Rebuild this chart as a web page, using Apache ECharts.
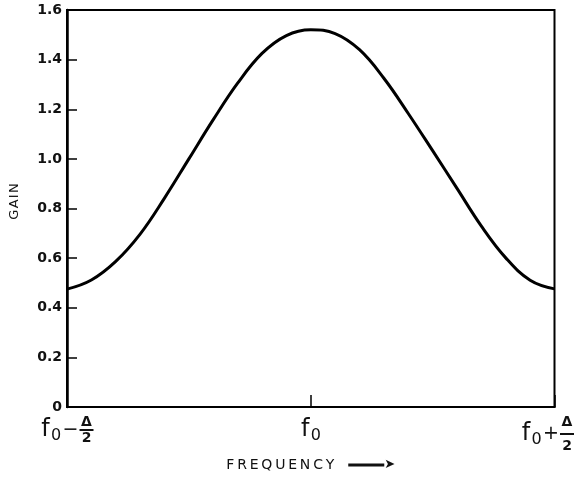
<!DOCTYPE html>
<html>
<head>
<meta charset="utf-8">
<script src="https://cdn.jsdelivr.net/npm/echarts@6/dist/echarts.min.js"></script>
<style>
  html, body { margin: 0; padding: 0; background: #fff; }
  #chart { width: 584px; height: 477px; }
</style>
</head>
<body>
<div id="chart"></div>
<script>
// Frequency offset from f0, in units of Δ
var freq = [-0.5, -0.45, -0.4, -0.35, -0.3, -0.25, -0.2, -0.15, -0.1, -0.05, 0, 0.05, 0.1, 0.15, 0.2, 0.25, 0.3, 0.35, 0.4, 0.45, 0.5];
// Gain
var gain = [0.475, 0.512, 0.587, 0.697, 0.842, 1.000, 1.158, 1.305, 1.425, 1.497, 1.520, 1.505, 1.440, 1.325, 1.183, 1.033, 0.881, 0.729, 0.601, 0.511, 0.476];
// Tick labels
var yTicks = [0, 0.2, 0.4, 0.6, 0.8, 1.0, 1.2, 1.4, 1.6];
var xTickValues = [-0.5, 0, 0.5];
var xTickLabels = ['f0 − Δ/2', 'f0', 'f0 + Δ/2'];

var FONT = 'DejaVu Sans';
var chart = echarts.init(document.getElementById('chart'), null, { renderer: 'canvas' });

function xLabel(v) {
  var i = xTickValues.indexOf(Math.round(v * 1000) / 1000);
  if (i < 0) return '';
  var t = xTickLabels[i];
  if (t === 'f0') {
    return '{e| }\n{f|f}{s|0}\n{e| }';
  }
  var op = t.indexOf('+') >= 0 ? '+' : '−';
  var tail = op === '+' ? '{tail|}' : '';
  return '{gap|}{num|Δ}' + tail + '\n' +
         '{f|f}{s|0}{op|' + op + '}{bar|}' + tail + '\n' +
         '{gap|}{den|2}' + tail;
}

var data = freq.map(function (f, i) { return [f, gain[i]]; });

chart.setOption({
  animation: false,
  backgroundColor: '#fff',
  grid: {
    left: 67, right: 23, top: 10, bottom: 66,
    show: true, borderColor: '#000', borderWidth: 2, backgroundColor: 'transparent'
  },
  xAxis: {
    type: 'value',
    min: -0.5, max: 0.5, interval: 0.5,
    name: '{t|F\u2009R\u2009E\u2009Q\u2009U\u2009E\u2009N\u2009C\u2009Y}{sp|}{shaft|}{head|➤}',
    nameLocation: 'middle',
    nameGap: 51,
    nameTextStyle: {
      rich: {
        t: { fontFamily: FONT, fontSize: 14, color: '#111' },
        sp: { width: 14 },
        shaft: { width: 36, height: 3, backgroundColor: '#111' },
        head: { fontFamily: FONT, fontSize: 13, color: '#111' }
      }
    },
    axisLine: { show: true, onZero: false, lineStyle: { color: '#000', width: 2 } },
    axisTick: { show: true, inside: true, length: 12, lineStyle: { color: '#000', width: 1.5 } },
    splitLine: { show: false },
    axisLabel: {
      show: true, margin: 9, showMinLabel: true, showMaxLabel: true,
      formatter: xLabel,
      rich: {
        e: { fontSize: 11, lineHeight: 12, width: 20, align: 'center' },
        f: { fontFamily: FONT, fontSize: 24, color: '#111', width: 10, align: 'center', lineHeight: 4 },
        s: { fontFamily: FONT, fontSize: 16, color: '#111', width: 11, align: 'center', lineHeight: 4, padding: [12, 0, 0, 0] },
        op: { fontFamily: FONT, fontSize: 19, color: '#111', width: 18, align: 'center', lineHeight: 4 },
        bar: { width: 14, height: 2, backgroundColor: '#111', align: 'center' },
        gap: { width: 39, align: 'center', lineHeight: 12 },
        num: { fontFamily: FONT, fontSize: 14, fontWeight: 'bold', color: '#111', width: 14, align: 'center', lineHeight: 12 },
        den: { fontFamily: FONT, fontSize: 14, fontWeight: 'bold', color: '#111', width: 14, align: 'center', lineHeight: 12 },
        tail: { width: 14, align: 'center' }
      }
    }
  },
  yAxis: {
    type: 'value',
    min: 0, max: 1.6, interval: 0.2,
    name: 'G\u200aA\u200aI\u200aN',
    nameLocation: 'middle',
    nameGap: 46,
    nameRotate: 90,
    nameTextStyle: { fontFamily: FONT, fontSize: 13, color: '#111', padding: [0, 0, 0, 14] },
    axisLine: { show: true, onZero: false, lineStyle: { color: '#000', width: 2.5 } },
    axisTick: { show: true, inside: true, length: 10, lineStyle: { color: '#000', width: 1.5 } },
    splitLine: { show: false },
    axisLabel: {
      margin: 5,
      fontFamily: FONT, fontSize: 14, fontWeight: 'bold', color: '#111',
      formatter: function (v) { return Math.abs(v) < 1e-9 ? '0' : v.toFixed(1); }
    }
  },
  series: [{
    type: 'line',
    data: data,
    smooth: 0.4,
    showSymbol: false,
    symbol: 'none',
    lineStyle: { color: '#000', width: 3 },
    z: 5
  }]
});
</script>
</body>
</html>
